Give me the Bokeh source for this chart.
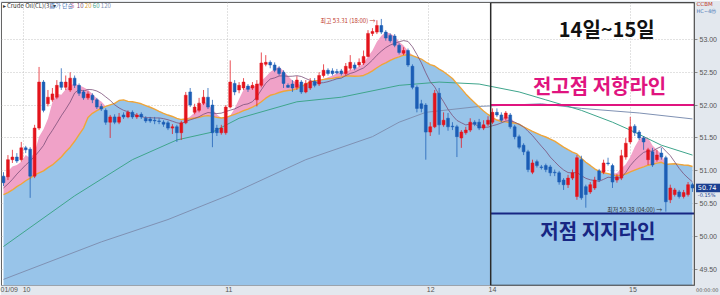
import numpy as np
import pandas as pd
from bokeh.plotting import figure
from bokeh.models import Range1d, FixedTicker, Label, BoxAnnotation, ColumnDataSource
from bokeh.core.properties import value
from bokeh.embed import file_html
from bokeh.resources import INLINE

# ---- data ----
opens = [50.92, 50.91, 51.17, 51.21, 51.17, 51.35, 51.33, 50.92, 51.65, 52.35,
         52.02, 52.08, 52.12, 52.35, 52.27, 52.23, 52.41, 52.30, 52.20, 52.11,
         52.15, 52.08, 51.98, 51.92, 51.74, 51.82, 51.74, 51.85, 51.82, 51.89,
         51.82, 51.86, 51.80, 51.79, 51.77, 51.76, 51.74, 51.73, 51.65, 51.67,
         51.58, 51.73, 52.20, 51.89, 51.92, 52.03, 52.12, 52.00, 51.65, 51.58,
         51.58, 51.97, 52.33, 52.23, 52.26, 52.29, 52.26, 52.08, 52.30, 52.62,
         52.65, 52.61, 52.56, 52.50, 52.30, 52.32, 52.27, 52.35, 52.20, 52.26,
         52.36, 52.32, 52.45, 52.53, 52.52, 52.51, 52.52, 52.48, 52.56, 52.61,
         52.61, 52.64, 52.74, 53.09, 53.11, 53.21, 53.11, 53.06, 53.05, 52.91,
         52.79, 52.83, 52.59, 52.27, 52.02, 52.00, 51.59, 51.67, 52.18, 51.70,
         51.80, 51.68, 51.67, 51.50, 51.58, 51.62, 51.74, 51.74, 51.65, 51.71,
         51.74, 51.89, 51.85, 51.80, 51.85, 51.67, 51.52, 51.39, 51.29, 50.98,
         51.14, 51.06, 51.08, 51.06, 50.98, 50.97, 50.86, 50.79, 50.89, 50.61,
         51.17, 50.76, 50.68, 50.74, 51.00, 50.98, 51.12, 51.08, 50.86, 50.89,
         51.21, 51.44, 51.68, 51.59, 51.50, 51.17, 51.29, 51.17, 51.27, 51.20,
         50.56, 50.64, 50.68, 50.61, 50.64, 50.79]
highs = [50.98, 51.24, 51.32, 51.27, 51.44, 51.38, 51.36, 51.70, 52.58, 52.38,
         52.23, 52.26, 52.38, 52.56, 52.45, 52.50, 52.45, 52.33, 52.23, 52.21,
         52.18, 52.11, 52.02, 51.95, 51.85, 51.86, 51.88, 51.89, 51.92, 51.92,
         51.88, 51.89, 51.83, 51.82, 51.82, 51.80, 51.77, 51.76, 51.71, 51.70,
         51.76, 52.20, 52.26, 52.02, 52.11, 52.23, 52.26, 52.08, 51.70, 51.70,
         52.00, 52.68, 52.38, 52.35, 52.41, 52.32, 52.35, 52.38, 52.80, 52.76,
         52.68, 52.65, 52.59, 52.53, 52.33, 52.38, 52.44, 52.38, 52.38, 52.41,
         52.41, 52.50, 52.62, 52.56, 52.56, 52.55, 52.55, 52.64, 52.76, 52.65,
         52.71, 52.83, 53.14, 53.17, 53.29, 53.31, 53.14, 53.09, 53.08, 52.94,
         52.88, 52.86, 52.62, 52.30, 52.08, 52.03, 51.74, 52.23, 52.26, 51.89,
         51.88, 51.74, 51.70, 51.62, 51.67, 51.80, 51.77, 51.79, 51.77, 51.83,
         51.95, 51.95, 51.89, 51.91, 51.88, 51.70, 51.55, 51.42, 51.32, 51.17,
         51.17, 51.09, 51.11, 51.09, 51.02, 51.00, 50.89, 50.94, 51.02, 51.24,
         51.23, 50.79, 50.83, 50.91, 51.03, 51.17, 51.20, 51.11, 50.95, 51.32,
         51.50, 51.82, 51.71, 51.62, 51.53, 51.35, 51.35, 51.32, 51.35, 51.23,
         50.79, 50.74, 50.71, 50.71, 50.83, 50.82]
lows = [50.77, 50.86, 51.12, 51.12, 51.14, 51.27, 50.59, 50.89, 51.62, 51.89,
        51.98, 52.05, 52.09, 52.23, 52.23, 52.20, 52.26, 52.14, 52.08, 52.08,
        52.03, 51.94, 51.91, 51.70, 51.50, 51.71, 51.71, 51.79, 51.80, 51.79,
        51.79, 51.79, 51.73, 51.73, 51.71, 51.71, 51.67, 51.62, 51.56, 51.44,
        51.47, 51.71, 51.97, 51.86, 51.89, 52.00, 51.94, 51.36, 51.53, 51.55,
        51.55, 51.95, 52.15, 52.18, 52.23, 52.20, 52.23, 51.98, 52.27, 52.59,
        52.56, 52.50, 52.45, 52.26, 52.26, 52.20, 52.23, 52.17, 52.18, 52.23,
        52.27, 52.29, 52.42, 52.45, 52.45, 52.47, 52.45, 52.45, 52.53, 52.53,
        52.58, 52.61, 52.73, 53.05, 53.08, 53.08, 52.98, 52.95, 52.88, 52.77,
        52.76, 52.58, 52.24, 51.89, 51.89, 51.17, 51.53, 51.65, 51.55, 51.67,
        51.61, 51.62, 51.21, 51.35, 51.55, 51.59, 51.68, 51.62, 51.62, 51.68,
        51.71, 51.82, 51.74, 51.77, 51.64, 51.48, 51.33, 51.24, 50.98, 50.95,
        51.05, 51.02, 50.98, 50.92, 50.92, 50.79, 50.71, 50.74, 50.86, 50.56,
        50.56, 50.44, 50.65, 50.71, 50.83, 50.95, 51.08, 50.74, 50.82, 50.86,
        51.17, 51.41, 51.53, 51.47, 51.32, 51.09, 51.06, 51.14, 51.17, 50.38,
        50.51, 50.61, 50.58, 50.58, 50.61, 50.68]
closes = [50.82, 51.17, 51.21, 51.15, 51.35, 51.32, 50.92, 51.65, 52.35, 51.92,
          52.12, 52.17, 52.30, 52.27, 52.35, 52.41, 52.30, 52.18, 52.11, 52.17,
          52.08, 51.97, 51.94, 51.74, 51.82, 51.74, 51.82, 51.82, 51.89, 51.82,
          51.85, 51.82, 51.76, 51.76, 51.76, 51.75, 51.71, 51.65, 51.67, 51.58,
          51.73, 52.15, 52.00, 51.97, 52.03, 52.12, 51.97, 51.58, 51.58, 51.65,
          51.97, 52.35, 52.20, 52.30, 52.35, 52.24, 52.30, 52.32, 52.64, 52.65,
          52.61, 52.53, 52.48, 52.33, 52.27, 52.26, 52.38, 52.20, 52.33, 52.36,
          52.30, 52.45, 52.53, 52.48, 52.48, 52.49, 52.48, 52.59, 52.65, 52.56,
          52.65, 52.74, 53.09, 53.12, 53.21, 53.11, 53.02, 52.98, 52.91, 52.80,
          52.83, 52.61, 52.27, 51.95, 51.95, 51.59, 51.67, 52.18, 51.70, 51.77,
          51.67, 51.67, 51.52, 51.59, 51.62, 51.74, 51.71, 51.65, 51.70, 51.77,
          51.89, 51.85, 51.77, 51.88, 51.67, 51.52, 51.36, 51.29, 51.02, 51.12,
          51.08, 51.05, 51.02, 50.97, 50.97, 50.83, 50.79, 50.89, 50.97, 51.20,
          50.59, 50.64, 50.79, 50.86, 50.86, 51.12, 51.11, 50.83, 50.91, 51.23,
          51.42, 51.67, 51.58, 51.50, 51.44, 51.32, 51.09, 51.24, 51.21, 50.53,
          50.74, 50.71, 50.61, 50.67, 50.79, 50.74]

# moving-average values at the left edge (their history is off-chart)
ma10_early = [50.74, 50.80, 50.87, 50.95, 51.02, 51.09, 51.15, 51.22, 51.30]
ma20_early = [50.64, 50.67, 50.71, 50.76, 50.80, 50.85, 50.89, 50.94, 50.97, 51.00,
              51.05, 51.09, 51.15, 51.21, 51.29, 51.36, 51.45, 51.55, 51.65]
# long moving averages read at points along their lines
ma60_at = [0, 16, 29, 39, 47, 53, 66, 76, 89, 98, 107, 116, 122, 130, 137, 141, 148, 155]
ma60_val = [49.85, 50.62, 51.17, 51.47, 51.59, 51.80, 52.05, 52.12, 52.30, 52.35,
            52.32, 52.20, 52.08, 51.92, 51.74, 51.62, 51.39, 51.24]
ma120_at = [0, 22, 37, 51, 68, 83, 89, 95, 107, 121, 130, 143, 155]
ma120_val = [49.35, 49.92, 50.26, 50.64, 51.17, 51.52, 51.74, 51.89, 51.98, 52.02,
             51.95, 51.88, 51.79]

price_ticks = [49.5, 50.0, 50.5, 51.0, 51.5, 52.0, 52.5, 53.0]
date_label_at = [1.1, 5.2, 50.7, 96.1, 110.0, 141.6]
date_labels = ["01/09", "10", "11", "12", "14", "15"]
day_start_at = [4.5, 50.4, 95.6, 109.6, 141.1]
resistance = 52.00
support = 50.35
last_change = "-0.15%"

# ---- derived ----
n = len(closes)
idx = np.arange(n)
s = pd.Series(closes)
ma5 = s.rolling(5, min_periods=1).mean().to_numpy()
ma10 = s.rolling(10).mean().to_numpy()
ma10[:9] = ma10_early
ma20 = s.rolling(20).mean().to_numpy()
ma20[:19] = ma20_early

o = np.array(opens); c = np.array(closes)
up = c >= o
RED = "#e3141c"
BLUE = "#1b5db5"
colors = [RED if u else BLUE for u in up]
src = ColumnDataSource(dict(x=idx, o=o, c=c, h=highs, l=lows, col=colors,
                            top=np.maximum(o, c), bot=np.minimum(o, c)))

X0, X1 = -0.45, 155.45
Y0, Y1 = 49.257, 53.56
p = figure(width=720, height=295, output_backend="svg", toolbar_location=None,
           x_range=Range1d(X0, X1), y_range=Range1d(Y0, Y1),
           y_axis_location="right",
           min_border_left=1, min_border_right=26, min_border_top=2, min_border_bottom=9)
p.background_fill_color = "#ffffff"
p.border_fill_color = "#e3e8ee"
p.outline_line_color = "#666666"

# grids
p.ygrid.ticker = FixedTicker(ticks=price_ticks)
p.xgrid.ticker = FixedTicker(ticks=day_start_at)
for g in (p.xgrid, p.ygrid):
    g.grid_line_color = "#c4c4c4"
    g.grid_line_dash = "1 2"
    g.grid_line_width = 1

# axes
ya = p.yaxis[0]
ya.ticker = FixedTicker(ticks=price_ticks)
ya.major_label_overrides = {t: f"{t:.2f}" for t in price_ticks}
ya.major_label_text_font_size = "7px"
ya.major_label_text_color = "#555555"
ya.major_label_standoff = 2
ya.major_tick_out = 3
ya.major_tick_in = 0
ya.minor_tick_line_color = None
ya.axis_line_color = "#8a8a8a"
ya.major_tick_line_color = "#8a8a8a"

xa = p.xaxis[0]
xa.ticker = FixedTicker(ticks=date_label_at)
xa.major_label_overrides = dict(zip(date_label_at, date_labels))
xa.major_label_text_font_size = "7px"
xa.major_label_text_color = "#555555"
xa.major_label_standoff = 0
xa.major_tick_out = 0
xa.major_tick_in = 0
xa.minor_tick_line_color = None
xa.axis_line_color = "#9aa3ad"

# filled moving-average areas
p.varea(x=idx, y1=np.full(n, Y0 - 1), y2=ma20, fill_color="#98c4e9")
p.varea(x=idx, y1=ma20, y2=np.maximum(ma5, ma20), fill_color="#f0a2c8")

# moving-average lines
p.line(ma120_at, ma120_val, line_color="#7f91b3", line_width=1)
p.line(ma60_at, ma60_val, line_color="#3fa58c", line_width=1)
p.line(idx, ma20, line_color="#eea53a", line_width=1.4)
p.line(idx, ma10, line_color="#7b4f78", line_width=0.8)

# candles
p.segment(x0="x", x1="x", y0="h", y1="l", line_color="col", line_width=1, line_alpha=0.75, source=src)
p.vbar(x="x", width=0.64, top="top", bottom="bot", fill_color="col", line_color="col", line_width=0.5, source=src)

# resistance / support levels inside the highlighted box
box_left = day_start_at[3]
p.segment(x0=[box_left], x1=[X1], y0=[resistance], y1=[resistance], line_color="#e0147f", line_width=2)
p.segment(x0=[box_left], x1=[X1], y0=[support], y1=[support], line_color="#172683", line_width=2)
p.add_layout(BoxAnnotation(left=box_left, right=X1, fill_alpha=0, line_color="#2a2a2a", line_alpha=1.0,
                           line_width=1.5))

KR = "Noto Sans CJK KR"
p.add_layout(Label(x=135.7, y=53.17, text="14일~15일", text_font=KR, text_font_style="bold",
                   text_font_size="20px", text_color="#111111", text_align="center", text_baseline="middle"))
p.add_layout(Label(x=134.1, y=52.30, text="전고점 저항라인", text_font=KR, text_font_style="bold",
                   text_font_size="20px", text_color="#e0147f", text_align="center", text_baseline="middle"))
p.add_layout(Label(x=133.7, y=50.09, text="저점 지지라인", text_font=KR, text_font_style="bold",
                   text_font_size="20px", text_color="#172683", text_align="center", text_baseline="middle"))

hi_i = int(np.argmax(highs)); lo_i = int(np.argmin(lows))
p.add_layout(Label(x=hi_i - 1.3, y=highs[hi_i] - 0.02, text=f"최고 {highs[hi_i]:.2f} (18:00) →", text_font=KR,
                   text_font_size="6px", text_color="#c0392b", text_align="right", text_baseline="middle"))
p.add_layout(Label(x=lo_i - 0.8, y=lows[lo_i] + 0.03, text=f"최저 {lows[lo_i]:.2f} (04:00) →", text_font=KR,
                   text_font_size="6px", text_color="#333333", text_align="right", text_baseline="middle"))

# header legend
legend_items = [(-0.2, "▸ Crude Oil(CL)(3) ▾", "#333333"), (10.4, "종가 단순", "#4a78b8"), (15.2, "5", "#e07aa8"),
                (16.5, "10", "#7b4f78"), (18.3, "20", "#d9a030"), (20.1, "60", "#3fa58c"), (21.9, "120", "#7f91b3")]
for lx, lt, lc in legend_items:
    p.add_layout(Label(x=lx, y=53.51, text=lt, text_font=KR, text_font_size="6px", text_color=lc,
                       text_baseline="middle"))

# right-side price box and corner texts (drawn on the overlay level so they show over the axis strip)
xr = X1 + 0.45
p.rect(x=[xr + 2.6], y=[closes[-1]], width=5.4, height=0.13, fill_color="#1b3f91", line_color=None,
       level="overlay")
p.text(x=[xr + 0.3, xr + 0.3, xr, xr, xr - 0.1], y=[closes[-1], closes[-1] - 0.1, 53.53, 53.43, Y0 - 0.07],
       text=[f"{closes[-1]:.2f}", last_change, "CCBM", "HC~4ⓜ", "00:00:00"],
       text_color=["#ffffff", "#1b3f91", "#c0392b", "#4a78b8", "#555555"],
       text_font_size=["6.5px", "5px", "5.5px", "5px", "5px"],
       text_baseline="middle", text_font=value("DejaVu Sans"), level="overlay")

open("out.html", "w").write(file_html(p, INLINE))
